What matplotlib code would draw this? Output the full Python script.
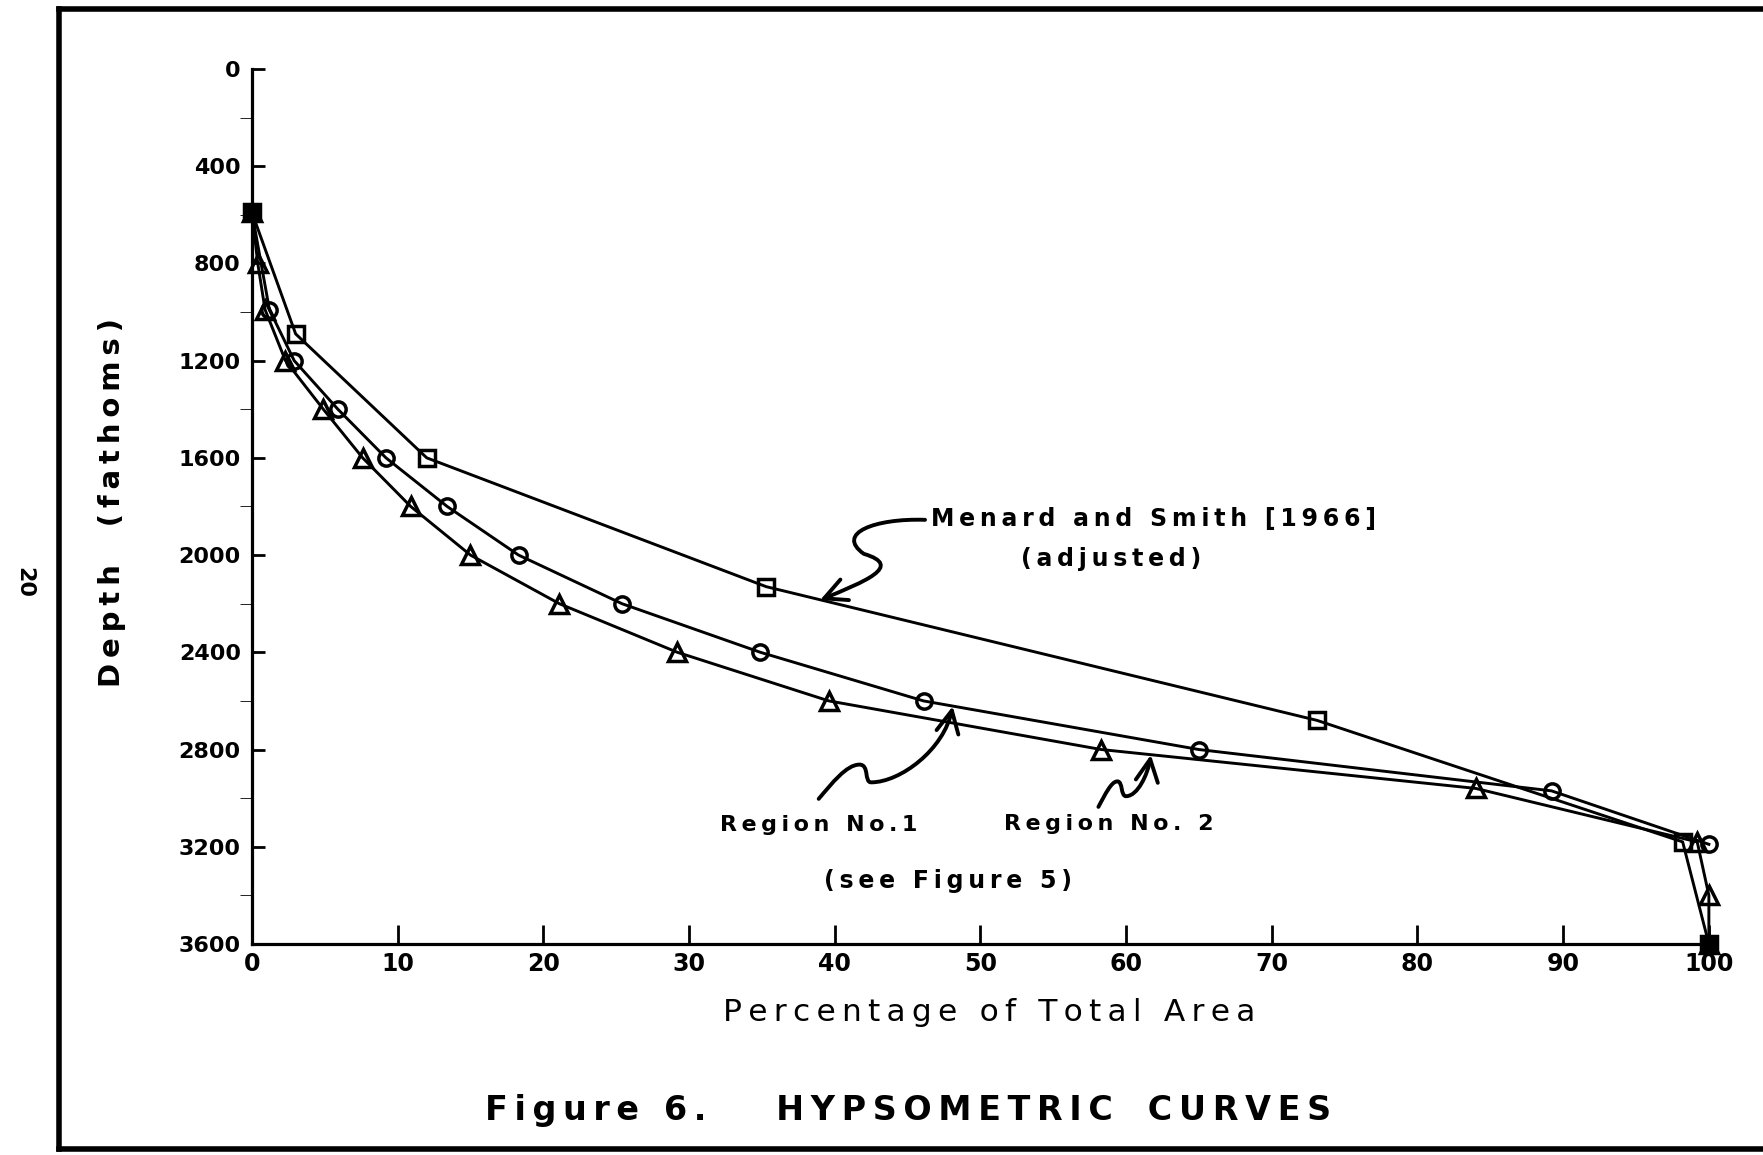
import matplotlib.pyplot as plt
from matplotlib.patches import FancyArrowPatch
from matplotlib.path import Path
from matplotlib.lines import Line2D

# Menard and Smith [1966] (adjusted) - squares
menard_pct = [0, 3.0, 12.0, 35.3, 73.1, 98.2, 100]
menard_depth = [590, 1090, 1600, 2130, 2680, 3180, 3600]

# Region No.1 - circles
region1_pct = [0, 1.2, 2.9, 5.9, 9.2, 13.4, 18.3, 25.4, 34.9, 46.1, 65.0, 89.2, 100]
region1_depth = [590, 990, 1200, 1400, 1600, 1800, 2000, 2200, 2400, 2600, 2800, 2970, 3190]

# Region No.2 - triangles
region2_pct = [0, 0.4, 0.9, 2.3, 4.9, 7.6, 10.9, 15.0, 21.1, 29.2, 39.6, 58.3, 84.0, 99.2, 100, 100]
region2_depth = [590, 800, 990, 1200, 1400, 1600, 1800, 2000, 2200, 2400, 2600, 2800, 2960, 3180, 3400, 3600]

x_ticks = [0, 10, 20, 30, 40, 50, 60, 70, 80, 90, 100]
y_ticks = list(range(0, 3601, 400))
y_minor = list(range(200, 3600, 400))


def track(s):
    # spread letters apart like the lettering-guide text of the original
    return "\u2009".join(s)


plt.rcParams["font.family"] = ["DejaVu Sans"]

fig = plt.figure(figsize=(17.63, 11.55), dpi=100)
ax = fig.add_axes([0.1429, 0.1827, 0.8264, 0.7576])

line_kw = dict(color="black", lw=2.1, markerfacecolor="none", markeredgecolor="black",
               markeredgewidth=2.5, clip_on=False, zorder=3)
ax.plot(menard_pct, menard_depth, marker="s", markersize=12, **line_kw)
ax.plot(region1_pct, region1_depth, marker="o", markersize=11, **line_kw)
ax.plot(region2_pct, region2_depth, marker="^", markersize=13, **line_kw)
# the shared end points are inked solid where the symbols pile up
ends = [0, -1]
ax.plot([menard_pct[i] for i in ends], [menard_depth[i] for i in ends], ls="none", marker="s",
        markersize=12, color="black", clip_on=False, zorder=4)

ax.set_xlim(0, 100)
ax.set_ylim(3600, 0)
ax.set_xticks(x_ticks)
ax.set_yticks(y_ticks)
ax.set_yticks(y_minor, minor=True)
ax.tick_params(axis="both", direction="in", width=2, labelsize=16)
ax.tick_params(axis="x", labelsize=17)
ax.tick_params(axis="y", which="major", length=9, pad=8)
ax.tick_params(axis="y", which="minor", length=9)
ax.tick_params(axis="x", length=14, pad=6)
for lab in ax.get_xticklabels() + ax.get_yticklabels():
    lab.set_fontweight("bold")
for s in ["top", "right"]:
    ax.spines[s].set_visible(False)
for s in ["left", "bottom"]:
    ax.spines[s].set_linewidth(2.3)

# annotations inside the plot
bold = dict(fontsize=17, fontweight="bold")
ax.text(46.6, 1850, track("Menard and Smith [1966]"), ha="left", va="center", **bold)
ax.text(59.0, 2015, track("(adjusted)"), ha="center", va="center", **bold)
ax.text(38.9, 3110, track("Region No.1"), ha="center", va="center", fontsize=16, fontweight="bold")
ax.text(58.8, 3105, track("Region No. 2"), ha="center", va="center", fontsize=16, fontweight="bold")
ax.text(47.8, 3341, track("(see Figure 5)"), ha="center", va="center", **bold)

# hand-drawn wavy arrows
C = Path.CURVE4
arrows = [
    [(46.2, 1855), (42.8, 1848), (40.0, 1910), (42.0, 1995),
     (44.8, 2045), (42.0, 2110), (39.0, 2185)],
    [(38.9, 3003), (39.8, 2940), (40.8, 2862), (41.7, 2862),
     (42.4, 2862), (42.0, 2935), (42.5, 2935),
     (44.5, 2935), (47.5, 2800), (48.1, 2622)],
    [(58.1, 3036), (58.6, 2980), (59.0, 2931), (59.4, 2931),
     (59.8, 2931), (59.6, 2992), (60.0, 2992),
     (60.8, 2992), (61.5, 2900), (61.7, 2822)],
]
for verts in arrows:
    codes = [Path.MOVETO] + [C] * (len(verts) - 1)
    arr = FancyArrowPatch(path=Path(verts, codes), arrowstyle="->,head_length=0.8,head_width=0.4",
                          mutation_scale=20, lw=2.8, color="black", zorder=4)
    ax.add_patch(arr)

# labels outside the axes
fig.text(0.5613, 0.1238, track("Percentage of Total Area"), ha="center", va="center", fontsize=22.5)
fig.text(0.0638, 0.5648, track("Depth  (fathoms)"), ha="center", va="center", rotation=90,
         fontsize=21, fontweight="bold")
fig.text(0.5153, 0.0381, track("Figure 6.") + "      " + track("HYPSOMETRIC") + "   " + track("CURVES"),
         ha="center", va="center", fontsize=24, fontweight="bold")
fig.text(0.014, 0.4957, "20", ha="center", va="center", rotation=-90, fontsize=16, fontweight="bold")

# page frame
fig.add_artist(Line2D([0.0332, 0.0332], [0.005, 0.992], transform=fig.transFigure, color="black", lw=4))
fig.add_artist(Line2D([0.0332, 1.0], [0.992, 0.992], transform=fig.transFigure, color="black", lw=4))
fig.add_artist(Line2D([0.0332, 1.0], [0.005, 0.005], transform=fig.transFigure, color="black", lw=4))

fig.savefig("out.png", dpi=100)
